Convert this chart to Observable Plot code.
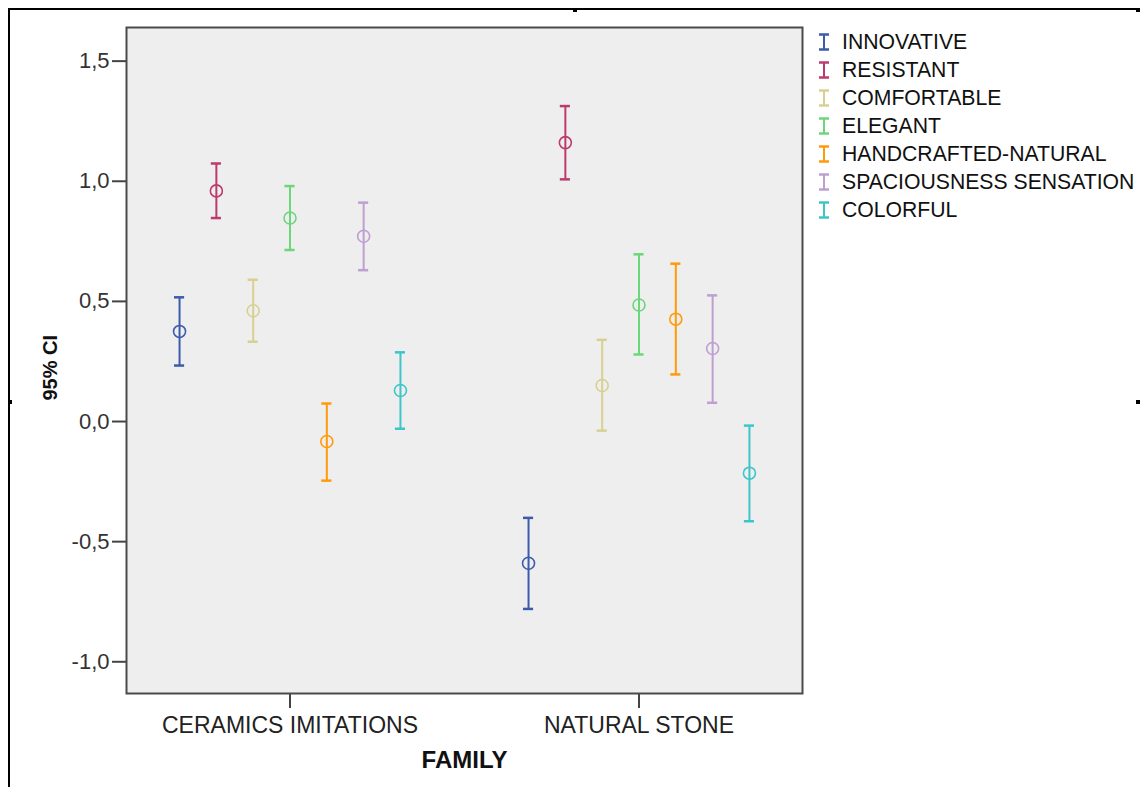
<!DOCTYPE html>
<html>
<head>
<meta charset="utf-8">
<script src="https://cdn.jsdelivr.net/npm/d3@7"></script>
<script src="https://cdn.jsdelivr.net/npm/@observablehq/plot@0.6"></script>
<style>
  html, body { margin: 0; padding: 0; background: #fff; }
  #wrap { position: relative; width: 1140px; height: 787px; overflow: hidden; font-family: "Liberation Sans", Arial, sans-serif; }
  #chart { position: absolute; left: 0; top: 0; }
  .border-top { position: absolute; left: 8px; top: 8px; width: 1132px; height: 2px; background: #000; }
  .border-left { position: absolute; left: 8px; top: 8px; width: 2px; height: 779px; background: #000; }
  .handle { position: absolute; width: 4px; height: 4px; background: #000; }
  #legend { position: absolute; left: 818px; top: 28px; }
  .row { display: flex; align-items: center; height: 28px; font-size: 21.2px; color: #111; white-space: nowrap; }
  .row svg { margin-right: 12px; }
</style>
</head>
<body>
<div id="wrap">
  <div class="border-top"></div>
  <div class="border-left"></div>
  <div class="handle" style="left:573px;top:8px"></div>
  <div class="handle" style="left:1136px;top:8px"></div>
  <div class="handle" style="left:8px;top:400px"></div>
  <div class="handle" style="left:1136px;top:400px"></div>
  <div id="chart"></div>
  <div id="legend"></div>
</div>
<script>
const families = ["CERAMICS IMITATIONS", "NATURAL STONE"];
const attributes = ["INNOVATIVE", "RESISTANT", "COMFORTABLE", "ELEGANT", "HANDCRAFTED-NATURAL", "SPACIOUSNESS SENSATION", "COLORFUL"];
const colors = ["#3d5bab", "#bd3a6c", "#d8d092", "#6cd67c", "#ff9a0a", "#bd9fd2", "#3ec5c9"];

const meanCeramics  = [0.375, 0.960, 0.461, 0.847, -0.083, 0.771, 0.129];
const lowerCeramics = [0.233, 0.847, 0.332, 0.714, -0.246, 0.630, -0.030];
const upperCeramics = [0.517, 1.074, 0.590, 0.980, 0.075, 0.911, 0.288];

const meanNatural  = [-0.590, 1.161, 0.150, 0.485, 0.426, 0.304, -0.215];
const lowerNatural = [-0.780, 1.008, -0.038, 0.279, 0.196, 0.078, -0.415];
const upperNatural = [-0.401, 1.313, 0.340, 0.696, 0.657, 0.525, -0.017];

const yTicks = [-1.0, -0.5, 0.0, 0.5, 1.0, 1.5];

// build table
const dodge = 0.1055;   // spacing between series within a family (x units)
const cap = 0.0145;     // half width of error bar caps (x units)
const series = [
  [meanCeramics, lowerCeramics, upperCeramics],
  [meanNatural, lowerNatural, upperNatural]
];
const data = [];
series.forEach(([m, lo, hi], g) => {
  attributes.forEach((a, i) => {
    data.push({family: families[g], attr: a, x: g + (i - 3) * dodge, mean: m[i], lo: lo[i], hi: hi[i]});
  });
});

const fmt = d => d.toFixed(1).replace(".", ",");

const plot = Plot.plot({
  width: 1140,
  height: 787,
  marginTop: 27,
  marginRight: 338,
  marginBottom: 94,
  marginLeft: 126,
  style: {fontFamily: "Liberation Sans, Arial, sans-serif", background: "transparent"},
  x: {domain: [-0.4685, 1.4685], axis: null},
  y: {domain: [-1.132, 1.640], axis: null},
  color: {domain: attributes, range: colors},
  marks: [
    Plot.frame({fill: "#eeeeee", stroke: null}),
    Plot.axisY({ticks: yTicks, tickFormat: fmt, tickSize: 14, tickPadding: 3, fontSize: 22, color: "#333", stroke: "#444", strokeWidth: 2, label: null}),
    Plot.axisX({ticks: [0, 1], tickFormat: i => families[i], tickSize: 15, tickPadding: 8, fontSize: 23, color: "#222", stroke: "#444", strokeWidth: 2, label: null}),
    Plot.ruleX(data, {x: "x", y1: "lo", y2: "hi", stroke: "attr", strokeWidth: 2}),
    Plot.ruleY(data, {y: "hi", x1: d => d.x - cap, x2: d => d.x + cap, stroke: "attr", strokeWidth: 2.5}),
    Plot.ruleY(data, {y: "lo", x1: d => d.x - cap, x2: d => d.x + cap, stroke: "attr", strokeWidth: 2.5}),
    Plot.dot(data, {x: "x", y: "mean", r: 6, stroke: "attr", fill: "none", strokeWidth: 1.6}),
    Plot.frame({stroke: "#4a4a4a", strokeWidth: 2}),
    Plot.text(["FAMILY"], {frameAnchor: "bottom", dy: 74, fontSize: 24, fontWeight: "bold", fill: "#111"}),
    Plot.text(["95% CI"], {frameAnchor: "left", dx: -76, dy: 40, rotate: -90, fontSize: 20, fontWeight: "bold", fill: "#111"})
  ]
});
document.getElementById("chart").appendChild(plot);

// legend
const legend = document.getElementById("legend");
attributes.forEach((a, i) => {
  const row = document.createElement("div");
  row.className = "row";
  const c = colors[i];
  row.innerHTML = `<svg width="12" height="18" viewBox="0 0 12 18"><line x1="6" y1="1" x2="6" y2="17" stroke="${c}" stroke-width="2"/><line x1="1" y1="1.5" x2="11" y2="1.5" stroke="${c}" stroke-width="2.5"/><line x1="1" y1="16.5" x2="11" y2="16.5" stroke="${c}" stroke-width="2.5"/></svg><span>${a}</span>`;
  legend.appendChild(row);
});
</script>
</body>
</html>
